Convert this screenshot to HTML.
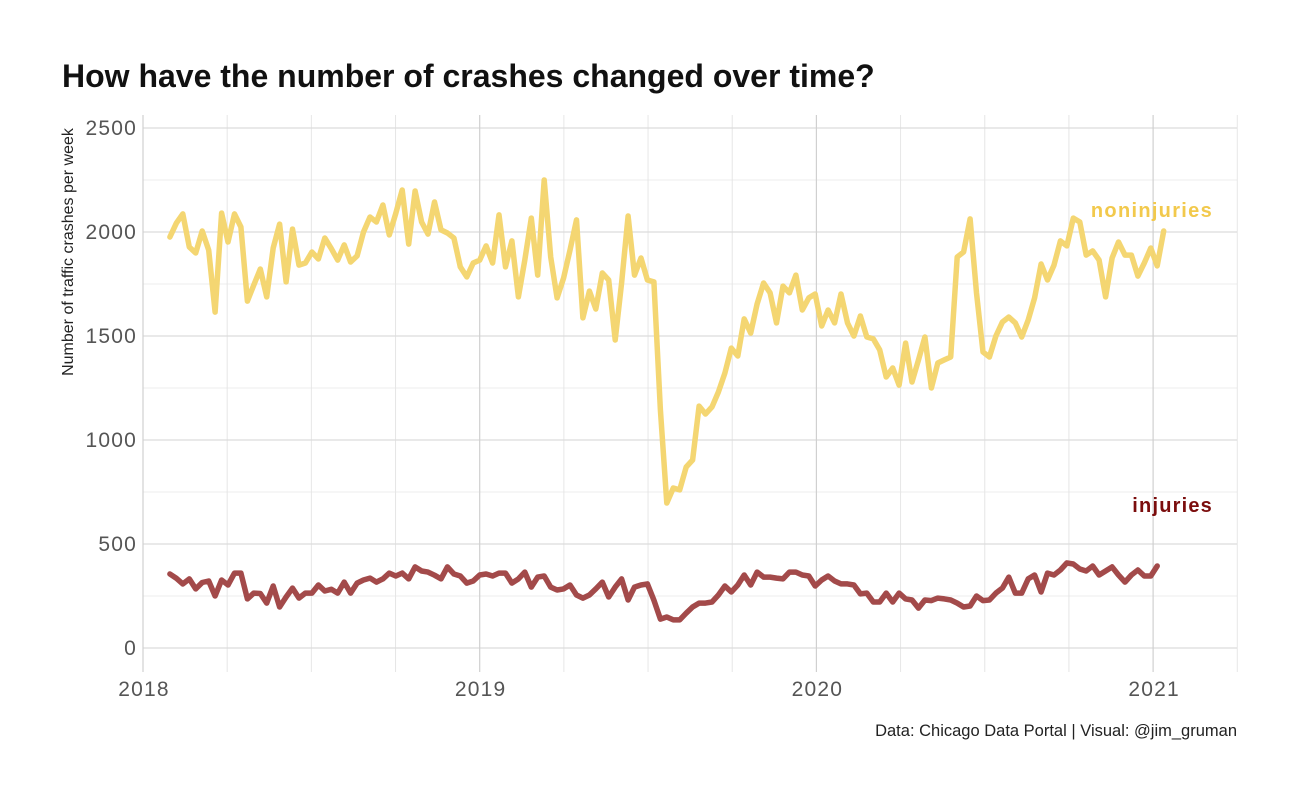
<!DOCTYPE html>
<html><head><meta charset="utf-8">
<style>
body{margin:0;background:#fff;}
svg{display:block;font-family:"Liberation Sans",sans-serif;}
</style></head>
<body>
<svg id="chart" width="1296" height="800">
<text x="62" y="87" font-size="32" font-weight="bold" fill="#111">How have the number of crashes changed over time?</text>
<g id="grid"></g>
<g id="axes"></g>
<g id="lines"></g>
<text transform="translate(73,252) rotate(-90)" text-anchor="middle" font-size="16" fill="#222">Number of traffic crashes per week</text>
<text x="1237" y="736" text-anchor="end" font-size="16.5" fill="#222">Data: Chicago Data Portal | Visual: @jim_gruman</text>
<text x="1213" y="217" text-anchor="end" font-size="20" font-weight="bold" letter-spacing="1.3" fill="#f2c94c">noninjuries</text>
<text x="1213" y="512" text-anchor="end" font-size="20" font-weight="bold" letter-spacing="1.2" fill="#7b0d0d">injuries</text>
</svg>
<script>
const startYear = 2018.080;
const weekStep = 7 / 365.25;
const noninjuries = [1976,2043,2087,1928,1899,2005,1913,1615,2091,1952,2087,2024,1668,1745,1822,1688,1923,2038,1760,2014,1841,1851,1904,1870,1971,1920,1865,1938,1856,1885,2000,2072,2048,2130,1986,2090,2202,1942,2197,2048,1990,2144,2010,1995,1971,1832,1784,1851,1865,1933,1851,2082,1832,1957,1688,1865,2067,1793,2250,1880,1683,1779,1913,2058,1587,1716,1630,1803,1769,1481,1755,2077,1793,1875,1769,1760,1144,697,769,760,870,904,1163,1125,1159,1231,1322,1442,1404,1582,1514,1654,1755,1707,1563,1740,1707,1793,1625,1683,1702,1548,1625,1563,1702,1563,1500,1596,1495,1486,1433,1303,1346,1264,1466,1279,1385,1495,1250,1370,1385,1399,1880,1904,2063,1707,1423,1399,1500,1567,1591,1563,1495,1577,1683,1846,1769,1841,1957,1933,2067,2048,1889,1909,1865,1688,1875,1952,1889,1889,1788,1851,1923,1837,2005];
const injuries = [356,335,308,332,284,315,322,250,327,303,360,360,236,264,262,216,298,197,245,288,240,264,264,303,274,282,264,317,264,312,327,336,317,332,360,346,360,332,390,370,365,350,332,390,356,346,312,322,351,356,346,360,360,312,332,365,293,341,346,293,279,284,303,255,240,255,284,317,245,293,332,231,293,303,308,230,139,149,135,135,168,197,216,216,221,255,298,269,303,351,303,365,341,341,336,332,365,365,351,346,298,327,346,322,308,308,303,260,264,221,221,264,221,264,236,231,192,231,228,240,236,231,216,197,202,250,228,231,264,288,341,264,264,332,351,269,360,351,375,409,404,380,370,394,351,370,390,351,317,351,375,346,346,394];
const yTicks = [0,500,1000,1500,2000,2500];
const yMinor = [250,750,1250,1750,2250];
const xTicks = [2018,2019,2020,2021];
const xMinor = [2018.25,2018.5,2018.75,2019.25,2019.5,2019.75,2020.25,2020.5,2020.75,2021.25];

const NS = "http://www.w3.org/2000/svg";
const X = t => 143 + (t - 2018) * 336.7;
const Y = v => 648 - v * 0.208;
const L = 143, R = 1237, T = 115, B = 672;
function mk(tag, attrs, parent){const e=document.createElementNS(NS,tag);for(const k in attrs)e.setAttribute(k,attrs[k]);parent.appendChild(e);return e;}
const grid=document.getElementById('grid'), axes=document.getElementById('axes'), lines=document.getElementById('lines');
yMinor.forEach(v=>{const e=mk('line',{x1:L,x2:R,y1:Y(v),y2:Y(v),stroke:'#ececec','stroke-width':1},grid);

});
xMinor.forEach(t=>{const e=mk('line',{x1:X(t),x2:X(t),y1:T,y2:B,stroke:'#e6e6e6','stroke-width':1},grid);

});
yTicks.forEach(v=>{const e=mk('line',{x1:L,x2:R,y1:Y(v),y2:Y(v),stroke:'#dcdcdc','stroke-width':1.2},grid);


const t=mk('text',{x:137,y:Y(v)+7,'text-anchor':'end','font-size':21,'letter-spacing':1.2,fill:'#555'},axes);t.textContent=v;

});
xTicks.forEach(v=>{const e=mk('line',{x1:X(v),x2:X(v),y1:T,y2:B,stroke:'#d0d0d0','stroke-width':1.2},grid);


const t=mk('text',{x:X(v)+1,y:696,'text-anchor':'middle','font-size':21,'letter-spacing':1.2,fill:'#555'},axes);t.textContent=v;

});
function path(arr){return arr.map((v,i)=>(i?'L':'M')+X(startYear+i*weekStep).toFixed(1)+','+Y(v).toFixed(1)).join(' ');}
const p1=mk('path',{d:path(noninjuries),fill:'none',stroke:'#f3d46a','stroke-opacity':0.95,'stroke-width':5.5,'stroke-linejoin':'round','stroke-linecap':'round'},lines);


const p2=mk('path',{d:path(injuries),fill:'none',stroke:'#a34a4a','stroke-width':5.5,'stroke-linejoin':'round','stroke-linecap':'round'},lines);


</script>
</body></html>
